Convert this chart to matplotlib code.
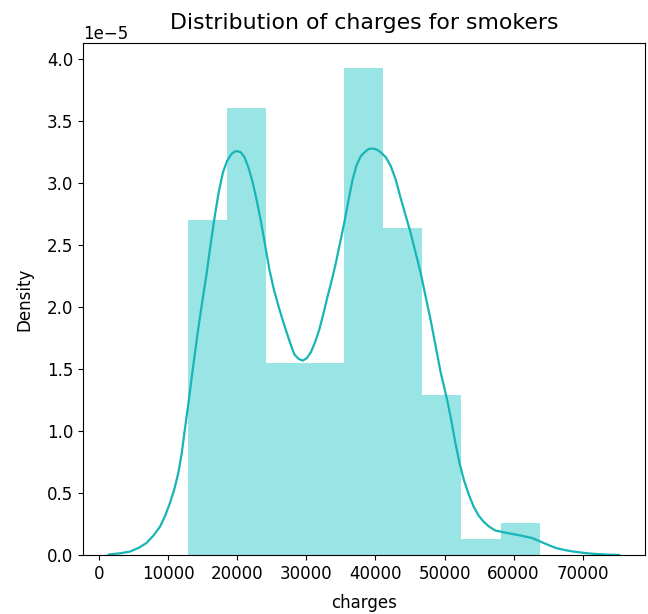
import numpy as np
import matplotlib
matplotlib.use("Agg")
import matplotlib.pyplot as plt

# Histogram of smoker charges: bin edges and counts per bin
bin_edges = [12829.5, 18489.6, 24149.7, 29809.8, 35469.9, 41130.0,
             46790.1, 52450.2, 58110.3, 63770.4]
bin_counts = [42, 56, 24, 24, 61, 41, 20, 2, 4]

# Kernel density estimate of the same charges (density in units of 1e-5)
kde_x = [1330, 1560, 3000, 4440, 5700, 6850, 7850, 8780, 9550, 10220,
         10850, 11430, 11930, 12380, 12870, 13350, 13830, 14310, 14900, 15510,
         16100, 16710, 17300, 17920, 18500, 19120, 19550, 19990, 20500, 21040,
         21650, 22250, 22850, 23450, 24050, 24650, 25300, 26000, 26650, 27300,
         27780, 28250, 28850, 29460, 30060, 30660, 31260, 31860, 32460, 33070,
         33670, 34270, 34870, 35470, 36080, 36680, 37280, 37880, 38700, 39100,
         39570, 40100, 40770, 41500, 42210, 42930, 43650, 44370, 45090, 45810,
         46530, 47250, 47980, 48700, 49420, 50390, 50870, 51590, 52190, 52790,
         53510, 54230, 54950, 55670, 56500, 57360, 58200, 59050, 60000, 60970,
         61800, 62660, 63500, 64330, 65300, 66260, 67450, 68660, 70100, 71540,
         73400, 75300]
kde_y = [0.004, 0.008, 0.016, 0.03, 0.06, 0.10, 0.16, 0.23, 0.32, 0.42,
         0.53, 0.66, 0.82, 1.01, 1.21, 1.42, 1.62, 1.82, 2.04, 2.26,
         2.50, 2.73, 2.93, 3.09, 3.18, 3.235, 3.255, 3.26, 3.25, 3.21,
         3.12, 3.00, 2.85, 2.68, 2.49, 2.30, 2.14, 2.00, 1.88, 1.77,
         1.69, 1.62, 1.585, 1.57, 1.59, 1.64, 1.72, 1.82, 1.95, 2.09,
         2.22, 2.36, 2.52, 2.68, 2.86, 3.03, 3.15, 3.22, 3.265, 3.278,
         3.28, 3.275, 3.25, 3.21, 3.14, 3.03, 2.88, 2.74, 2.60, 2.44,
         2.28, 2.09, 1.90, 1.69, 1.48, 1.25, 1.12, 0.90, 0.74, 0.61,
         0.49, 0.39, 0.32, 0.27, 0.23, 0.20, 0.19, 0.18, 0.17, 0.16,
         0.15, 0.14, 0.12, 0.10, 0.077, 0.057, 0.042, 0.03, 0.02, 0.012,
         0.006, 0.003]

fig = plt.figure(figsize=(6.48, 6.14), dpi=100)
ax = fig.add_axes([0.128, 0.0956, 0.867, 0.834])

edges = np.array(bin_edges)
centers = (edges[:-1] + edges[1:]) / 2
ax.hist(centers, bins=edges, weights=bin_counts, density=True,
        color="c", alpha=0.4, linewidth=0)
ax.plot(np.array(kde_x), np.array(kde_y) * 1e-5, color="#17b5b5",
        linewidth=1.6, solid_joinstyle="round")

ax.set_xticks([0, 10000, 20000, 30000, 40000, 50000, 60000, 70000])
ax.tick_params(labelsize=12)
ax.yaxis.get_offset_text().set_fontsize(12)
ax.set_xlabel("charges", fontsize=12, labelpad=8)
ax.set_ylabel("Density", fontsize=12, labelpad=10)
ax.set_title("Distribution of charges for smokers", fontsize=15.8, pad=10)

# neighbouring panel's axis label, mostly cut off at the right edge
fig.text(1.003, 0.505, "Density", rotation=90, fontsize=12,
         ha="left", va="center")

fig.savefig("out.png", dpi=100)
